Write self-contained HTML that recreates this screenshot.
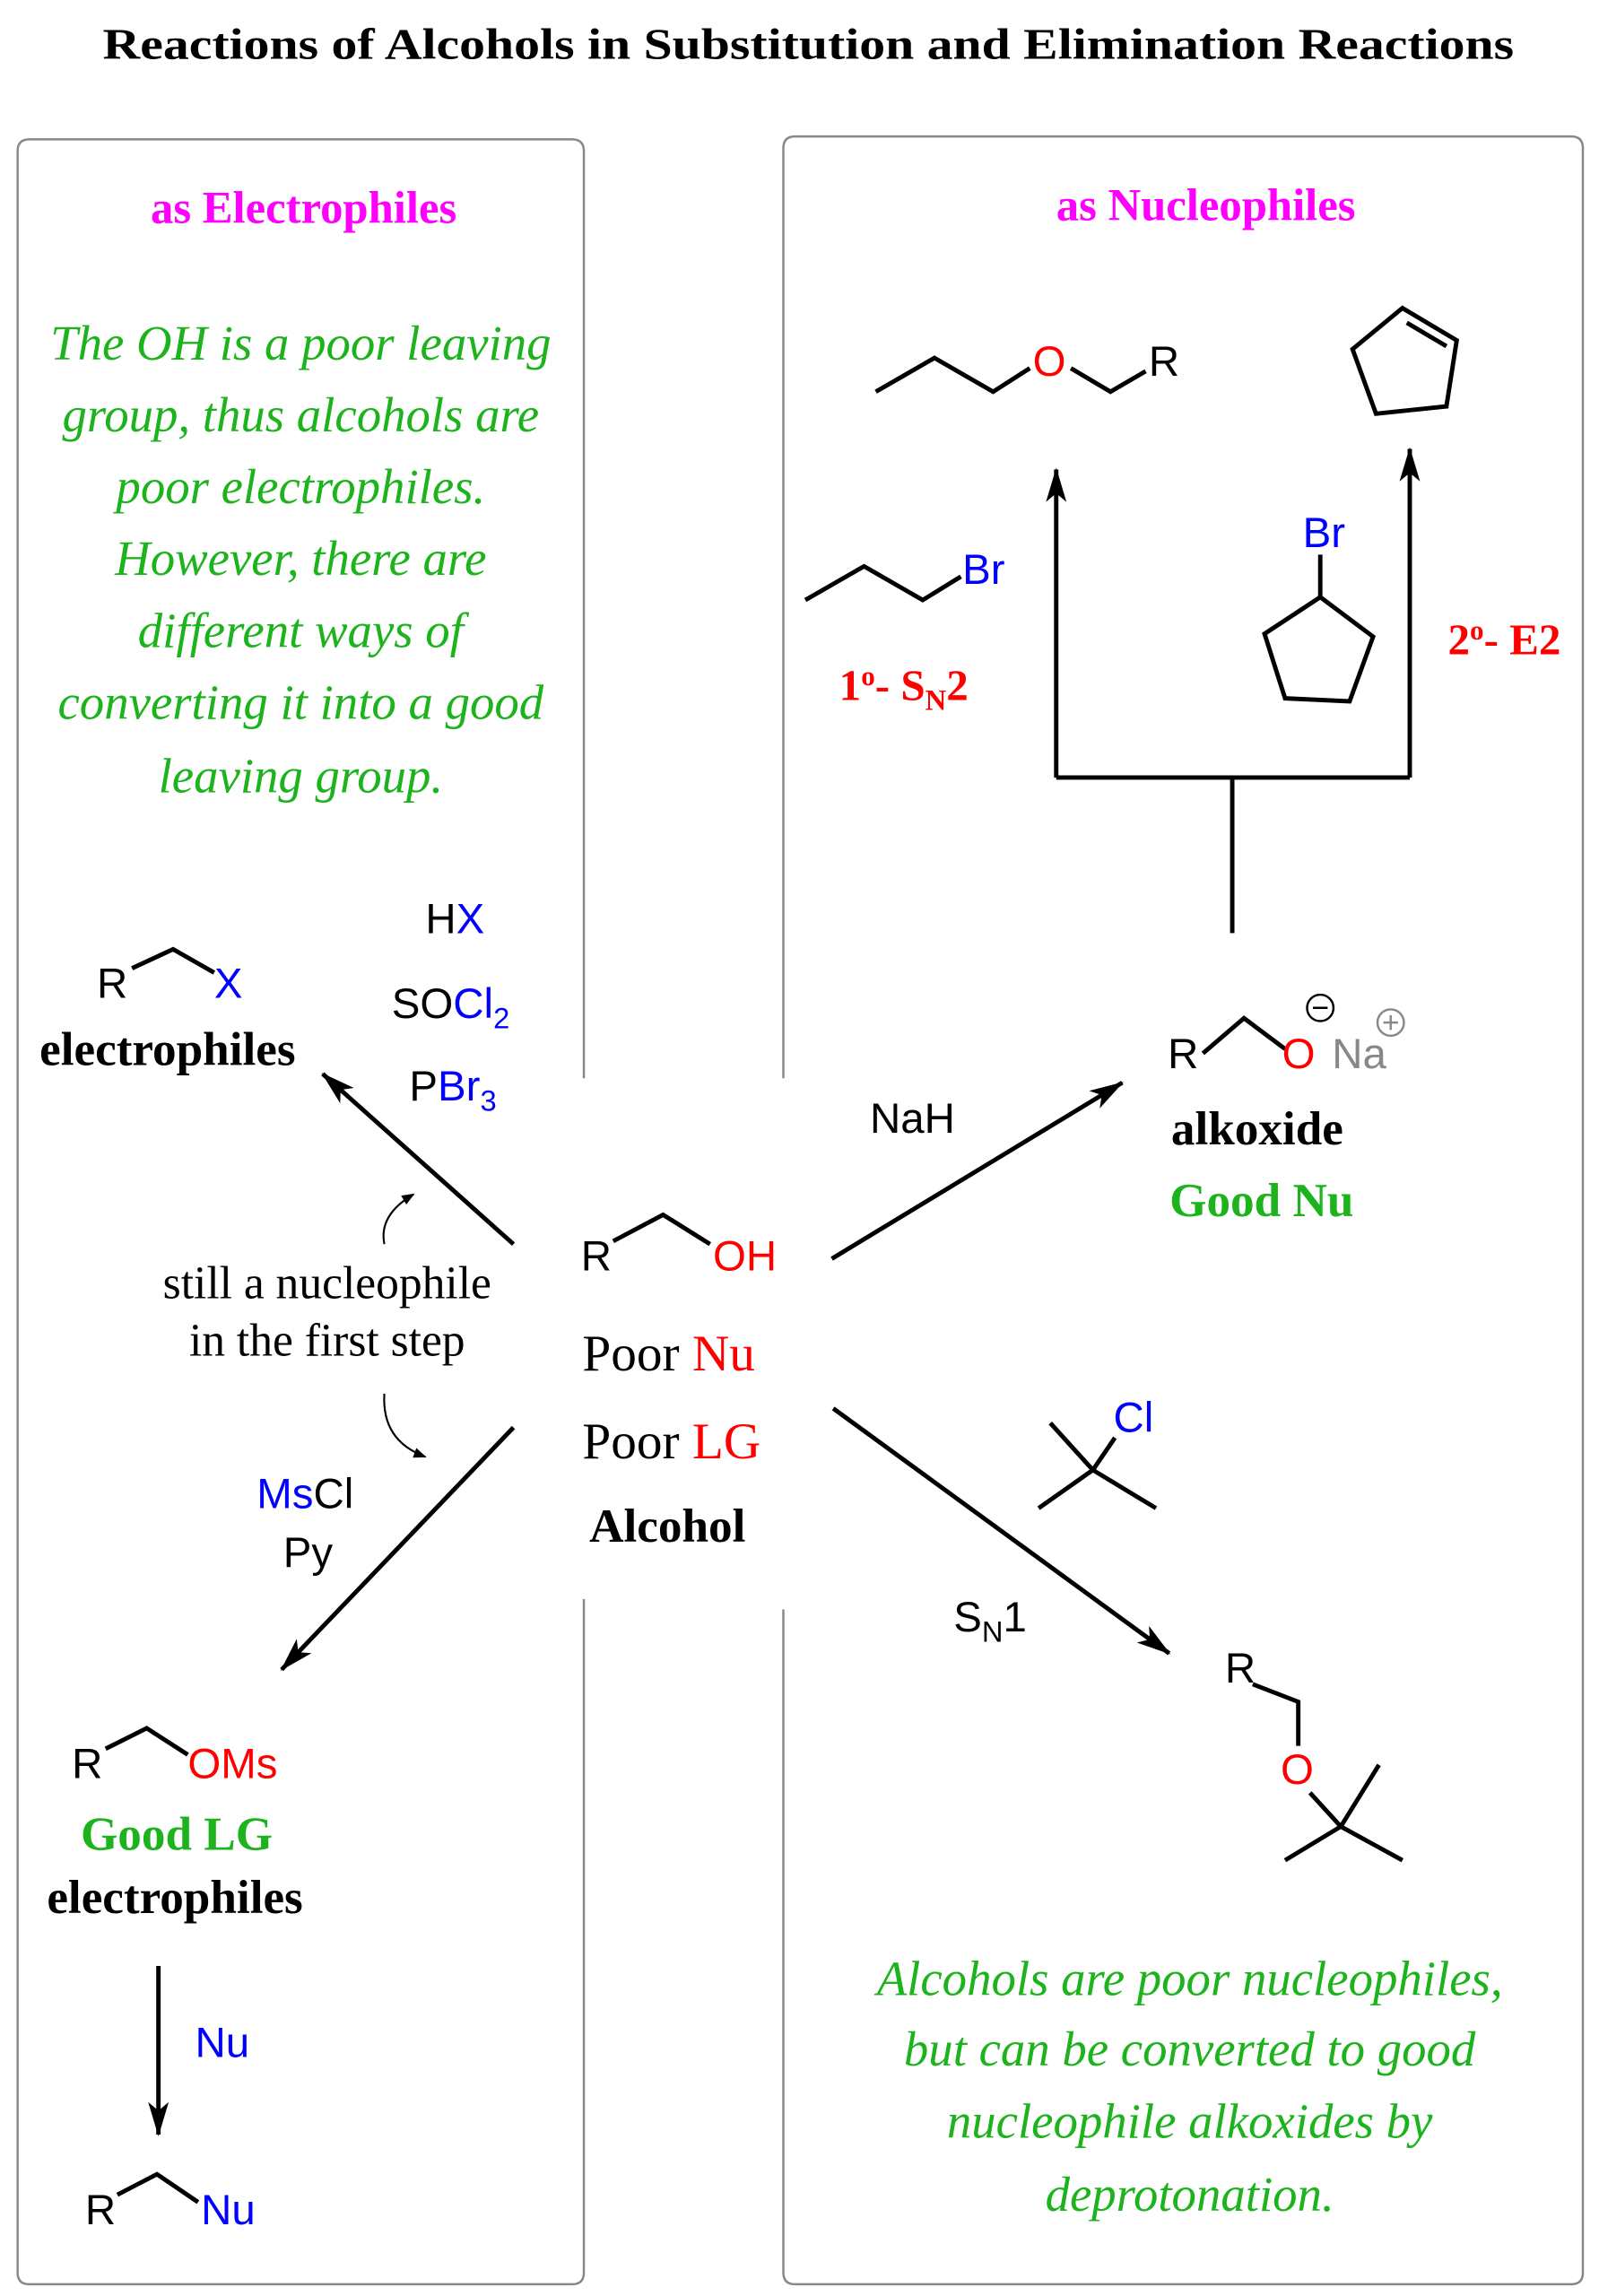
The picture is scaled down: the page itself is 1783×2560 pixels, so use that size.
<!DOCTYPE html>
<html><head><meta charset="utf-8"><style>html,body{margin:0;padding:0;background:#fff}svg{display:block}</style></head><body>
<svg xmlns="http://www.w3.org/2000/svg" width="1783" height="2560" viewBox="0 0 1090 1565">
<defs>
<marker id="a" viewBox="0 0 20 12" refX="19" refY="6" markerWidth="24" markerHeight="14" orient="auto" markerUnits="userSpaceOnUse"><path d="M0,0 L20,6 L0,12 L5,6 Z" fill="#000"/></marker>
<marker id="s" viewBox="0 0 10 8" refX="9" refY="4" markerWidth="9" markerHeight="7" orient="auto" markerUnits="userSpaceOnUse"><path d="M0,0 L10,4 L0,8 Z" fill="#000"/></marker></defs>
<g font-family="Liberation Serif, serif">
<text x="70" y="40" font-size="30" font-weight="bold" textLength="962" lengthAdjust="spacingAndGlyphs">Reactions of Alcohols in Substitution and Elimination Reactions</text>
</g>
<g fill="none" stroke="#888" stroke-width="1.5">
<path d="M398,735 V103 Q398,95 390,95 H20 Q12,95 12,103 V1549 Q12,1557 20,1557 H390 Q398,1557 398,1549 V1090"/>
<path d="M534,735 V101 Q534,93 542,93 H1071 Q1079,93 1079,101 V1549 Q1079,1557 1071,1557 H542 Q534,1557 534,1549 V1097"/>
</g>
<g font-family="Liberation Serif, serif" font-weight="bold" font-size="31" fill="#f0f" text-anchor="middle">
<text x="207" y="152">as Electrophiles</text><text x="822" y="150">as Nucleophiles</text></g>
<g font-family="Liberation Serif, serif" font-style="italic" font-size="33.5" fill="#1db31d" text-anchor="middle">
<text x="205" y="245">The OH is a poor leaving</text><text x="205" y="294">group, thus alcohols are</text><text x="205" y="343">poor electrophiles.</text><text x="205" y="392">However, there are</text><text x="205" y="441">different ways of</text><text x="205" y="490">converting it into a good</text><text x="205" y="540">leaving group.</text>
<text x="811" y="1360">Alcohols are poor nucleophiles,</text><text x="811" y="1408">but can be converted to good</text><text x="811" y="1457">nucleophile alkoxides by</text><text x="811" y="1507">deprotonation.</text></g>
<g fill="none" stroke="#000" stroke-width="3">
<polyline points="597,267 637,244 677,267 702,251"/><polyline points="730,251 757,267 781,253"/>
<polygon points="956,210 993,232 986,277 938,282 922,238"/><line x1="959" y1="220" x2="986" y2="236"/>
<line x1="720" y1="530" x2="720" y2="320" marker-end="url(#a)"/><line x1="961" y1="530" x2="961" y2="306" marker-end="url(#a)"/>
<polyline points="720,530 961,530"/><line x1="840" y1="530" x2="840" y2="636"/>
<polyline points="549,409 589,386 629,409 655,393"/>
<line x1="900" y1="378" x2="900" y2="407"/><polygon points="900,407 936,434 920,478 876,476 862,432"/>
<polyline points="820,718 848,694 876,715"/>
<line x1="567" y1="858" x2="765" y2="738" marker-end="url(#a)"/>
<polyline points="418,846 452,828 484,848"/>
<line x1="350" y1="848" x2="220" y2="732" marker-end="url(#a)"/>
<polyline points="90,660 118,647 146,663"/>
<line x1="350" y1="973" x2="192" y2="1138" marker-end="url(#a)"/>
<polyline points="72,1192 100,1178 128,1196"/>
<line x1="108" y1="1340" x2="108" y2="1455" marker-end="url(#a)"/>
<polyline points="80,1496 107,1482 135,1501"/>
<line x1="716" y1="970" x2="745" y2="1002"/><line x1="745" y1="1002" x2="760" y2="980"/><line x1="708" y1="1028" x2="745" y2="1002"/><line x1="745" y1="1002" x2="788" y2="1028"/>
<line x1="568" y1="960" x2="797" y2="1127" marker-end="url(#a)"/>
<polyline points="854,1148 885,1160 885,1190"/><line x1="893" y1="1222" x2="914" y2="1245"/><line x1="940" y1="1203" x2="914" y2="1245"/><polyline points="876,1268 914,1245 956,1268"/>
</g>
<g fill="none" stroke="#000" stroke-width="1.3">
<path d="M262,848 Q258,828 282,814" marker-end="url(#s)"/>
<path d="M262,950 Q260,982 290,993" marker-end="url(#s)"/>
</g>
<g font-family="Liberation Sans, sans-serif" font-size="29">
<text x="704" y="256" fill="#f00">O</text><text x="783" y="256">R</text>
<text x="656" y="398" fill="#00f">Br</text><text x="888" y="373" fill="#00f">Br</text>
<text x="796" y="728">R</text><text x="874" y="728" fill="#f00">O</text><text x="908" y="728" fill="#888">Na</text>
<text x="593" y="772">NaH</text>
<text x="396" y="866">R</text><text x="486" y="866" fill="#f00">OH</text>
<text x="290" y="636">H<tspan fill="#00f">X</tspan></text>
<text x="267" y="694">SO<tspan fill="#00f">Cl<tspan font-size="20" dy="7">2</tspan></tspan></text>
<text x="279" y="750">P<tspan fill="#00f">Br<tspan font-size="20" dy="7">3</tspan></tspan></text>
<text x="66" y="680">R</text><text x="146" y="680" fill="#00f">X</text>
<text x="175" y="1028"><tspan fill="#00f">Ms</tspan>Cl</text><text x="193" y="1068">Py</text>
<text x="49" y="1212">R</text><text x="128" y="1212" fill="#f00">OMs</text>
<text x="133" y="1402" fill="#00f">Nu</text>
<text x="58" y="1516">R</text><text x="137" y="1516" fill="#00f">Nu</text>
<text x="759" y="976" fill="#00f">Cl</text>
<text x="650" y="1112">S<tspan font-size="20" dy="7">N</tspan><tspan dy="-7">1</tspan></text>
<text x="835" y="1147">R</text><text x="873" y="1216" fill="#f00">O</text>
</g>
<g fill="none" stroke="#000" stroke-width="1.5"><circle cx="900" cy="687" r="9"/><line x1="895" y1="687" x2="905" y2="687"/></g>
<g fill="none" stroke="#888" stroke-width="1.5"><circle cx="948" cy="697" r="9"/><line x1="943" y1="697" x2="953" y2="697"/><line x1="948" y1="692" x2="948" y2="702"/></g>
<g font-family="Liberation Serif, serif" font-size="32.5">
<text x="572" y="477" fill="#f00" font-weight="bold" font-size="30">1<tspan font-size="19" dy="-10">o</tspan><tspan dy="10">- S</tspan><tspan font-size="20" dy="7">N</tspan><tspan dy="-7">2</tspan></text>
<text x="987" y="446" fill="#f00" font-weight="bold" font-size="30">2<tspan font-size="19" dy="-10">o</tspan><tspan dy="10">- E2</tspan></text>
<text x="857" y="780" font-weight="bold" text-anchor="middle">alkoxide</text>
<text x="860" y="829" font-weight="bold" fill="#1db31d" text-anchor="middle">Good Nu</text>
<text x="397" y="934" font-size="35">Poor <tspan fill="#f00">Nu</tspan></text>
<text x="397" y="994" font-size="35">Poor <tspan fill="#f00">LG</tspan></text>
<text x="455" y="1051" font-weight="bold" text-anchor="middle">Alcohol</text>
<text x="27" y="726" font-weight="bold">electrophiles</text>
<text x="223" y="885" text-anchor="middle" font-size="31.5">still a nucleophile</text>
<text x="223" y="924" text-anchor="middle" font-size="31.5">in the first step</text>
<text x="55" y="1261" font-weight="bold" fill="#1db31d">Good LG</text>
<text x="32" y="1304" font-weight="bold">electrophiles</text>
</g>
</svg>
</body></html>
